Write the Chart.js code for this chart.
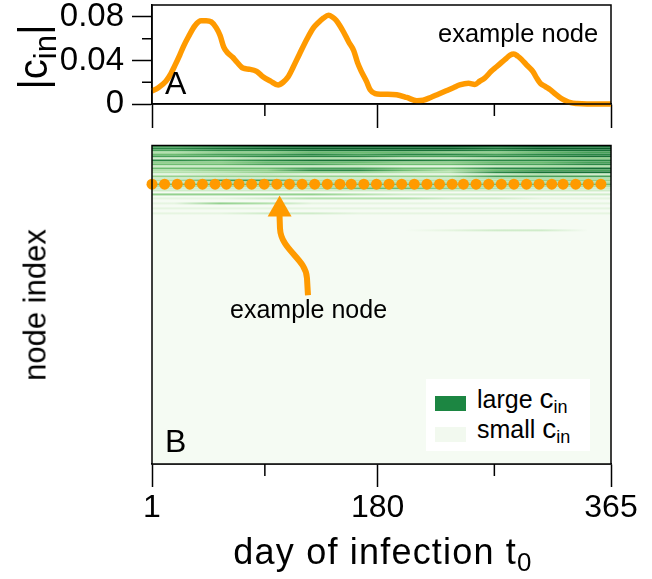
<!DOCTYPE html>
<html>
<head>
<meta charset="utf-8">
<script src="https://cdn.jsdelivr.net/npm/chart.js@4.4.0/dist/chart.umd.min.js"></script>
<style>
body{margin:0;background:#fff;font-family:'Liberation Sans',Arial,sans-serif;}
#wrap{position:relative;width:652px;height:579px;overflow:hidden;}
.box{position:absolute;left:0;width:652px;}
.t{position:absolute;white-space:nowrap;color:#000;line-height:1;}
sub{font-size:0.72em;vertical-align:-0.28em;line-height:0;}
.sw{position:absolute;width:31px;height:15px;}
</style>
</head>
<body>
<div id="wrap">
  <div class="box" style="top:0;height:140px"><canvas id="topChart" width="652" height="140"></canvas></div>
  <div class="box" style="top:140px;height:439px"><canvas id="heatChart" width="652" height="439"></canvas></div>

  <div class="t" style="left:33px;top:57px;font-size:40px;transform:translate(-50%,-50%) rotate(-90deg)">|c<sub style="font-size:0.78em">in</sub>|</div>
  <div class="t" style="left:165px;top:67px;font-size:32px">A</div>
  <div class="t" style="left:438px;top:21px;font-size:25.5px">example node</div>

  <div class="t" style="left:35px;top:305px;font-size:31px;transform:translate(-50%,-50%) rotate(-90deg)">node index</div>
  <div class="t" style="left:230px;top:297px;font-size:25px">example node</div>
  <div class="t" style="left:165px;top:425px;font-size:32px">B</div>

  <div style="position:absolute;left:426px;top:379px;width:164px;height:72px;background:#fff"></div>
  <div class="sw" style="left:435px;top:396px;background:#1c8642"></div>
  <div class="sw" style="left:435px;top:427px;background:#f2f9ef"></div>
  <div class="t" style="left:477px;top:385px;font-size:25px">large <span style="font-size:28px">c</span><sub>in</sub></div>
  <div class="t" style="left:477px;top:415px;font-size:25px">small <span style="font-size:28px">c</span><sub>in</sub></div>

  <div class="t" style="left:383px;top:534px;font-size:36px;letter-spacing:1.2px;transform:translateX(-50%)">day of infection t<sub>0</sub></div>
</div>
<script>
// top panel: |c_in| of the example node over the day of infection
const days = [1, 6, 12, 16, 19, 23, 26, 30, 35, 40, 44, 48, 52, 55, 58, 61, 65, 68, 73, 78,
  84, 89, 95, 101, 105, 109, 113, 118, 124, 129, 133, 137, 141, 144, 147, 150, 153, 157, 161, 164,
  167, 171, 174, 178, 182, 188, 195, 203, 211, 216, 222, 228, 235, 240, 245, 252, 257, 261, 265, 270,
  274, 278, 282, 285, 288, 291, 294, 298, 303, 306, 309, 313, 317, 321, 325, 329, 333, 338, 346, 355, 365];
const cin = [0.012, 0.015, 0.021, 0.028, 0.035, 0.045, 0.053, 0.062, 0.072, 0.0765, 0.0765, 0.0755, 0.070, 0.063, 0.052, 0.047, 0.043, 0.039, 0.033, 0.032,
  0.030, 0.025, 0.021, 0.0175, 0.020, 0.025, 0.034, 0.046, 0.060, 0.070, 0.075, 0.079, 0.0815, 0.080, 0.077, 0.072, 0.066, 0.057, 0.049, 0.038,
  0.030, 0.021, 0.013, 0.0095, 0.009, 0.009, 0.0085, 0.006, 0.003, 0.0035, 0.006, 0.009, 0.0125, 0.015, 0.0175, 0.019, 0.018, 0.021, 0.024, 0.030,
  0.034, 0.038, 0.042, 0.045, 0.046, 0.044, 0.041, 0.036, 0.030, 0.024, 0.019, 0.016, 0.013, 0.009, 0.0055, 0.003, 0.0012, 0.0004, 0, 0, 0];

const xMajor = [1, 180, 365];
const xMinor = [90.5, 272.5];
const yMajor = [0, 0.04, 0.08];
const yMinor = [0.02, 0.06];

// bottom panel: heat map rows (node index, level 0-9 per day column)
const colDays = [19, 55, 92, 128, 165, 201, 237, 274, 310, 347];
const heatNodes = [0, 2, 4, 6, 8, 10, 12, 14, 16, 18, 20, 22, 24, 26, 28, 30, 32, 34, 36, 38, 40, 42, 44, 48, 52, 57, 62, 67, 84];
const heatLevels = [
  "6789999898", "7899999899", "6778888788", "3445554456", "5667677677",
  "6677766778", "2233322344", "7678887777", "4455544556", "5566555667",
  "2222211233", "5556655778", "3447753566", "3344433788", "1221111232",
  "4444444666", "2222222333", "3663333344", "2333333333", "5555555555",
  "3333333333", "2223554322", "2222222222", "4444322222", "1123332211",
  "1431111111", "1111111111", "1122111111", "0000001220"
];
const greens = [[245,251,243],[230,245,225],[208,236,202],[180,225,173],[148,209,143],
  [110,189,113],[72,161,89],[42,136,69],[22,113,53],[6,93,39]];

// orange dots marking the example node
const exampleNode = 38.7;
const dotDays = [1, 11, 21, 31, 41, 51, 60, 70, 80, 90, 100, 110, 120, 130, 140, 150, 159, 169, 179,
  189, 199, 209, 219, 229, 239, 248, 258, 268, 278, 288, 298, 308, 318, 327, 337, 347, 357];

// arrow pointing at the example node (day, node index)
const arrowShaft = [[124.7, 150], [123.9, 133], [123.1, 113], [103.3, 105], [102.5, 83], [102.1, 69]];
const arrowHead = [[102.2, 50], [92.7, 71], [111.7, 71]];

const orange = '#ff9a00';
const fontFamily = "'Liberation Sans', Arial, sans-serif";

const boxPlugin = {
  id: 'box',
  afterDraw(chart) {
    const a = chart.chartArea, ctx = chart.ctx;
    ctx.save();
    ctx.strokeStyle = '#000';
    ctx.lineWidth = 1.5;
    ctx.strokeRect(a.left, a.top, a.right - a.left, a.bottom - a.top);
    ctx.restore();
  }
};

function minorTicks(xs, xLen, ys, yLen) {
  return {
    id: 'minor',
    afterDraw(chart) {
      const ctx = chart.ctx, a = chart.chartArea;
      ctx.save();
      ctx.strokeStyle = '#000';
      ctx.lineWidth = 1.5;
      ctx.beginPath();
      xs.forEach(v => {
        const px = chart.scales.x.getPixelForValue(v);
        ctx.moveTo(px, a.bottom);
        ctx.lineTo(px, a.bottom + xLen);
      });
      ys.forEach(v => {
        const py = chart.scales.y.getPixelForValue(v);
        ctx.moveTo(a.left, py);
        ctx.lineTo(a.left - yLen, py);
      });
      ctx.stroke();
      ctx.restore();
    }
  };
}

new Chart(document.getElementById('topChart'), {
  type: 'line',
  data: {
    datasets: [{
      data: days.map((d, i) => ({x: d, y: cin[i]})),
      borderColor: orange,
      borderWidth: 5.5,
      pointRadius: 0,
      cubicInterpolationMode: 'monotone',
      clip: 10
    }]
  },
  options: {
    responsive: false,
    animation: false,
    layout: {padding: {top: 5, right: 41, left: 0, bottom: 0}},
    plugins: {legend: {display: false}, tooltip: {enabled: false}},
    scales: {
      x: {
        type: 'linear', min: 1, max: 365,
        afterBuildTicks: s => { s.ticks = xMajor.map(v => ({value: v})); },
        afterFit: s => { s.height = 36; s.paddingLeft = 0; s.paddingRight = 0; },
        ticks: {display: false},
        grid: {drawOnChartArea: false, tickLength: 24, tickColor: '#000', tickWidth: 1.5},
        border: {color: '#000', width: 1.5}
      },
      y: {
        min: 0, max: 0.091,
        afterBuildTicks: s => { s.ticks = yMajor.map(v => ({value: v})); },
        afterFit: s => { s.width = 152; s.paddingTop = 0; s.paddingBottom = 0; },
        ticks: {font: {family: fontFamily, size: 33}, color: '#000', padding: 8, autoSkip: false,
          callback: v => v === 0 ? '0' : v.toFixed(2)},
        grid: {drawOnChartArea: false, tickLength: 20, tickColor: '#000', tickWidth: 1.5},
        border: {color: '#000', width: 1.5}
      }
    }
  },
  plugins: [boxPlugin, minorTicks(xMinor, 12, yMinor, 10)]
});

const heatPlugin = {
  id: 'heat',
  beforeDatasetsDraw(chart) {
    const ctx = chart.ctx, a = chart.chartArea;
    const xs = chart.scales.x, ys = chart.scales.y;
    const rgb = c => 'rgb(' + c.join(',') + ')';
    ctx.save();
    ctx.fillStyle = rgb(greens[0]);
    ctx.fillRect(a.left, a.top, a.right - a.left, a.bottom - a.top);
    const x0 = xs.getPixelForValue(1), x1 = xs.getPixelForValue(365);
    heatNodes.forEach((n, i) => {
      const g = ctx.createLinearGradient(x0, 0, x1, 0);
      heatLevels[i].split('').forEach((ch, j) => {
        const f = (xs.getPixelForValue(colDays[j]) - x0) / (x1 - x0);
        g.addColorStop(f, rgb(greens[+ch]));
      });
      const yTop = ys.getPixelForValue(n), yBot = ys.getPixelForValue(n + 2);
      ctx.fillStyle = g;
      ctx.fillRect(x0, yTop, x1 - x0, yBot - yTop);
    });
    ctx.restore();
  },
  afterDatasetsDraw(chart) {
    const ctx = chart.ctx;
    const xs = chart.scales.x, ys = chart.scales.y;
    const P = p => [xs.getPixelForValue(p[0]), ys.getPixelForValue(p[1])];
    const s = arrowShaft.map(P);
    ctx.save();
    ctx.strokeStyle = orange;
    ctx.fillStyle = orange;
    ctx.lineWidth = 6;
    ctx.beginPath();
    ctx.moveTo(s[0][0], s[0][1]);
    ctx.lineTo(s[1][0], s[1][1]);
    ctx.bezierCurveTo(s[2][0], s[2][1], s[3][0], s[3][1], s[4][0], s[4][1]);
    ctx.lineTo(s[5][0], s[5][1]);
    ctx.stroke();
    const h = arrowHead.map(P);
    ctx.beginPath();
    ctx.moveTo(h[0][0], h[0][1]);
    ctx.lineTo(h[1][0], h[1][1]);
    ctx.lineTo(h[2][0], h[2][1]);
    ctx.closePath();
    ctx.fill();
    ctx.restore();
  }
};

new Chart(document.getElementById('heatChart'), {
  type: 'scatter',
  data: {
    datasets: [{
      data: dotDays.map(d => ({x: d, y: exampleNode})),
      backgroundColor: orange,
      borderWidth: 0,
      pointRadius: 5.5,
      clip: false
    }]
  },
  options: {
    responsive: false,
    animation: false,
    layout: {padding: {top: 5, right: 41, left: 152, bottom: 0}},
    plugins: {legend: {display: false}, tooltip: {enabled: false}},
    scales: {
      x: {
        type: 'linear', min: 1, max: 365,
        afterBuildTicks: s => { s.ticks = xMajor.map(v => ({value: v})); },
        afterFit: s => { s.height = 115; s.paddingLeft = 0; s.paddingRight = 0; },
        ticks: {font: {family: fontFamily, size: 32}, color: '#000', padding: 2, maxRotation: 0, autoSkip: false},
        grid: {drawOnChartArea: false, tickLength: 23, tickColor: '#000', tickWidth: 1.5},
        border: {color: '#000', width: 1.5}
      },
      y: {
        display: false, reverse: true, min: 0, max: 319
      }
    }
  },
  plugins: [heatPlugin, boxPlugin, minorTicks(xMinor, 12, [], 0)]
});
</script>
</body>
</html>
